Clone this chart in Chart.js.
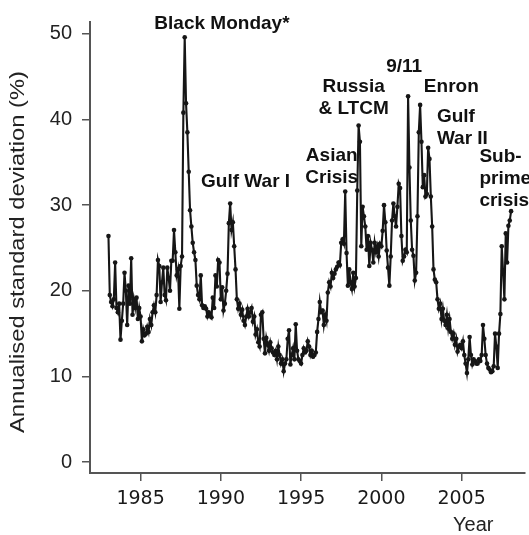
<!DOCTYPE html>
<html>
<head>
<meta charset="utf-8">
<title>Annualised standard deviation</title>
<script src="https://cdn.jsdelivr.net/npm/chart.js@4.4.0/dist/chart.umd.min.js"></script>
<style>
  html, body { margin: 0; padding: 0; background: #fff; }
  canvas { display: block; }
</style>
</head>
<body>
<canvas id="vol-chart" width="529" height="535"></canvas>
<script>
// monthly readings, one row per year, starting Jan 1983
const startYear = 1983;
const vol = [
  26.4, 19.5, 18.7, 18.2, 19.0, 23.3, 18.0, 17.5, 18.5, 14.3, 16.5, 18.5, // 1983
  22.1, 20.0, 16.0, 20.6, 18.5, 23.8, 17.2, 19.0, 18.0, 19.2, 16.7, 18.0, // 1984
  17.0, 14.1, 15.5, 14.8, 15.0, 15.8, 15.2, 16.7, 16.0, 17.5, 18.3, 17.5, // 1985
  19.5, 23.6, 22.9, 18.7, 21.0, 22.7, 19.5, 18.9, 22.7, 21.5, 20.0, 23.5, // 1986
  23.5, 27.1, 24.5, 21.8, 22.5, 17.9, 22.9, 24.0, 40.8, 49.6, 41.9, 38.5, // 1987
  33.9, 29.4, 27.5, 25.6, 24.5, 23.6, 20.6, 19.5, 19.0, 21.8, 18.3, 18.0, // 1988
  18.2, 17.9, 17.0, 17.5, 17.2, 16.9, 19.2, 18.0, 21.8, 20.5, 23.6, 23.3, // 1989
  19.0, 20.4, 17.7, 18.5, 20.0, 22.0, 27.9, 30.2, 27.1, 28.0, 25.2, 22.5, // 1990
  19.0, 17.9, 18.5, 17.2, 17.8, 16.5, 16.0, 17.0, 17.9, 17.0, 17.5, 18.0, // 1991
  16.4, 17.0, 14.9, 15.5, 14.0, 13.5, 17.2, 17.5, 14.4, 12.7, 14.5, 13.7, // 1992
  13.0, 14.0, 13.3, 12.8, 12.5, 13.0, 12.0, 13.5, 12.5, 11.5, 12.0, 10.6, // 1993
  11.5, 12.0, 14.4, 15.4, 11.4, 12.5, 13.3, 12.0, 16.1, 13.0, 12.0, 11.8, // 1994
  11.5, 12.5, 13.3, 12.8, 13.0, 14.1, 13.5, 12.5, 13.0, 12.3, 12.5, 12.8, // 1995
  15.2, 16.7, 18.7, 17.5, 17.7, 16.0, 17.2, 16.5, 19.8, 21.0, 20.5, 22.1, // 1996
  21.5, 22.0, 22.5, 22.8, 23.3, 23.0, 25.6, 26.0, 25.5, 31.6, 24.4, 20.6, // 1997
  22.5, 21.0, 20.2, 22.1, 20.5, 21.5, 31.7, 39.3, 37.4, 25.2, 29.8, 28.7, // 1998
  27.5, 24.8, 26.4, 22.9, 25.6, 24.8, 23.3, 25.6, 24.5, 25.2, 24.0, 25.5, // 1999
  25.2, 27.0, 30.0, 28.0, 24.7, 22.7, 20.6, 24.0, 28.2, 30.2, 28.7, 27.5, // 2000
  29.8, 32.5, 32.0, 26.4, 23.5, 24.0, 24.8, 24.5, 42.7, 34.4, 28.2, 24.8, // 2001
  24.1, 21.2, 22.1, 28.7, 38.5, 41.7, 37.4, 32.1, 33.5, 31.0, 31.3, 36.7, // 2002
  35.4, 31.0, 27.5, 22.5, 21.3, 21.0, 19.0, 17.9, 18.5, 16.7, 17.9, 16.5, // 2003
  16.0, 17.2, 15.6, 16.7, 15.2, 14.4, 15.0, 13.7, 14.4, 12.9, 13.5, 13.7, // 2004
  13.3, 14.1, 12.5, 11.5, 10.4, 12.0, 14.6, 12.5, 11.4, 12.0, 11.8, 11.5, // 2005
  11.5, 12.0, 11.8, 12.5, 16.0, 14.4, 12.5, 11.5, 11.0, 10.8, 10.5, 10.6, // 2006
  11.2, 15.0, 13.5, 11.0, 15.0, 17.3, 25.2, 22.3, 19.0, 26.7, 23.3, 27.6, // 2007
  28.2, 29.3                                                              // 2008
];

const yTicks = [0, 10, 20, 30, 40, 50];
const xTicks = [1985, 1990, 1995, 2000, 2005];

const yTitle = "Annualised standard deviation (%)";
const xTitle = "Year";

// event captions and where their first line sits (year, value)
const eventNames = [
  ["Black Monday*"],
  ["Gulf War I"],
  ["Asian", "Crisis"],
  ["Russia", "& LTCM"],
  ["9/11"],
  ["Enron"],
  ["Gulf", "War II"],
  ["Sub-", "prime", "crisis"]
];
const eventSpots = [
  { x: 1985.86, y: 50.6, align: "left" },
  { x: 1988.77, y: 32.1, align: "left" },
  { x: 1996.91, y: 35.1, align: "center" },
  { x: 1998.27, y: 43.2, align: "center" },
  { x: 2001.42, y: 45.5, align: "center" },
  { x: 2002.65, y: 43.2, align: "left" },
  { x: 2003.46, y: 39.75, align: "left" },
  { x: 2006.11, y: 35.0, align: "left" }
];

const points = vol.map((v, i) => ({ x: startYear + i / 12, y: v }));

const textPlugin = {
  id: "textPlugin",
  afterDraw(chart) {
    const ctx = chart.ctx;
    const xs = chart.scales.x;
    const ys = chart.scales.y;

    // event captions
    ctx.save();
    ctx.fillStyle = "#111";
    ctx.font = "bold 19px 'Liberation Sans', Arial, sans-serif";
    ctx.textBaseline = "alphabetic";
    eventNames.forEach((lines, k) => {
      const spot = eventSpots[k];
      const px = xs.getPixelForValue(spot.x);
      const py = ys.getPixelForValue(spot.y);
      ctx.textAlign = spot.align;
      lines.forEach((line, j) => {
        ctx.fillText(line, px, py + j * 22);
      });
    });
    ctx.restore();

    // y axis title, stretched a bit like the original
    ctx.save();
    ctx.fillStyle = "#222";
    ctx.font = "20px 'Liberation Sans', Arial, sans-serif";
    ctx.textAlign = "center";
    ctx.textBaseline = "middle";
    ctx.translate(18, 252);
    ctx.rotate(-Math.PI / 2);
    const w = ctx.measureText(yTitle).width;
    ctx.scale(362 / w, 1);
    ctx.fillText(yTitle, 0, 0);
    ctx.restore();

    // x axis title
    ctx.save();
    ctx.fillStyle = "#222";
    ctx.font = "20px 'Liberation Sans', Arial, sans-serif";
    ctx.textAlign = "left";
    ctx.textBaseline = "alphabetic";
    ctx.fillText(xTitle, 453, 531);
    ctx.restore();
  }
};

new Chart(document.getElementById("vol-chart"), {
  type: "line",
  data: {
    datasets: [{
      label: "Annualised standard deviation",
      data: points,
      borderColor: "#161616",
      borderWidth: 2.1,
      backgroundColor: "#161616",
      pointRadius: 2.3,
      pointBorderWidth: 0,
      tension: 0,
      fill: false
    }]
  },
  options: {
    responsive: false,
    animation: false,
    devicePixelRatio: 1,
    layout: { padding: { top: 16, right: 0, left: 0, bottom: 0 } },
    plugins: {
      legend: { display: false },
      tooltip: { enabled: false }
    },
    scales: {
      x: {
        type: "linear",
        min: 1981.85,
        max: 2008.95,
        afterBuildTicks: (scale) => { scale.ticks = xTicks.map(v => ({ value: v })); },
        afterFit: (scale) => { scale.height = 62; },
        grid: { drawOnChartArea: false, drawTicks: true, tickLength: 8, color: "#555", lineWidth: 1.5 },
        border: { display: true, color: "#555", width: 2 },
        ticks: {
          color: "#1a1a1a",
          padding: 7,
          maxRotation: 0,
          font: { family: "'DejaVu Sans', sans-serif", size: 19 },
          callback: (v) => String(v)
        }
      },
      y: {
        min: -1.27,
        max: 51.38,
        afterBuildTicks: (scale) => { scale.ticks = yTicks.map(v => ({ value: v })); },
        afterFit: (scale) => { scale.width = 90; },
        grid: { drawOnChartArea: false, drawTicks: true, tickLength: 8, color: "#555", lineWidth: 1.5 },
        border: { display: true, color: "#555", width: 2 },
        ticks: {
          color: "#222",
          padding: 10,
          font: { family: "'Liberation Sans', Arial, sans-serif", size: 20 }
        }
      }
    }
  },
  plugins: [textPlugin]
});
</script>
</body>
</html>
